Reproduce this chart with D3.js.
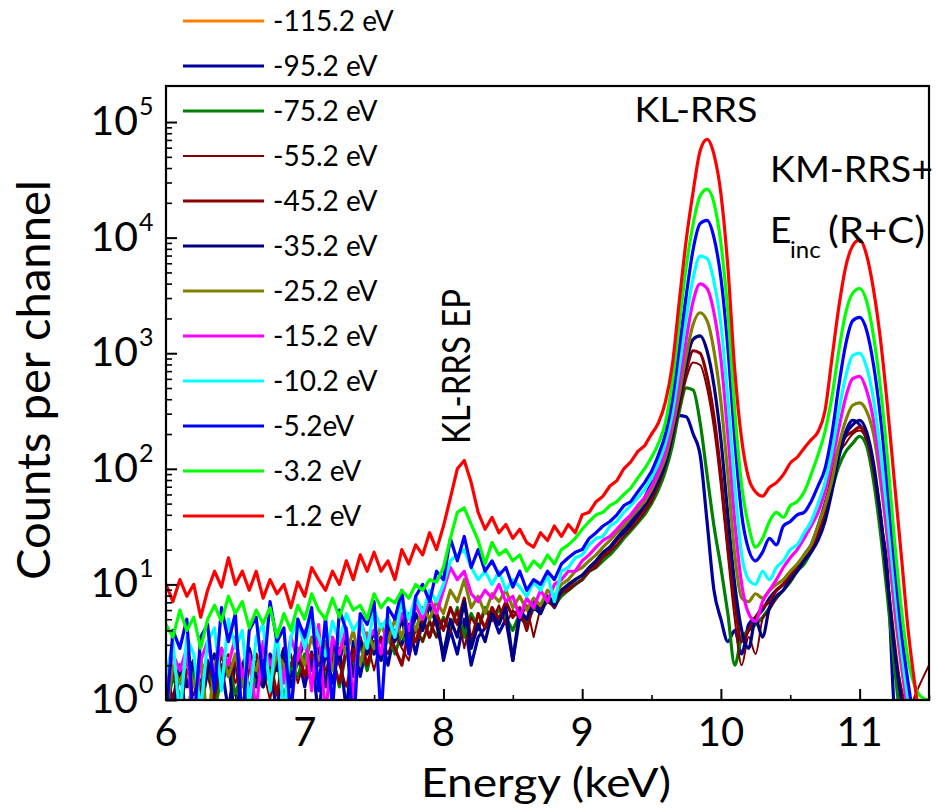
<!DOCTYPE html>
<html>
<head>
<meta charset="utf-8">
<script src="https://cdn.jsdelivr.net/npm/d3@7"></script>
<style>
body { margin: 0; background: #fff; }
svg { display: block; font-family: Lato, "DejaVu Sans", sans-serif; }
</style>
</head>
<body>
<svg id="chart" width="942" height="808"></svg>
<script>
// channel energies (keV)
const energies = [
6.00,6.05,6.10,6.15,6.20,6.25,6.30,6.35,6.40,6.45,
6.50,6.55,6.60,6.65,6.70,6.75,6.80,6.85,6.90,6.95,
7.00,7.05,7.10,7.15,7.20,7.25,7.30,7.35,7.40,7.45,
7.50,7.55,7.60,7.65,7.70,7.75,7.80,7.85,7.90,7.95,
8.00,8.05,8.10,8.15,8.20,8.25,8.30,8.35,8.40,8.45,
8.50,8.55,8.60,8.65,8.70,8.75,8.80,8.85,8.90,8.95,
9.00,9.05,9.10,9.15,9.20,9.25,9.30,9.35,9.40,9.45,
9.50,9.55,9.60,9.65,9.70,9.75,9.80,9.85,9.90,9.95,
10.00,10.05,10.10,10.15,10.20,10.25,10.30,10.35,10.40,10.45,
10.50,10.55,10.60,10.65,10.70,10.75,10.80,10.85,10.90,10.95,
11.00,11.05,11.10,11.15,11.20,11.25,11.30,11.35,11.40,11.45,
11.50];

const legendLabels = ["-115.2 eV","-95.2 eV","-75.2 eV","-55.2 eV","-45.2 eV","-35.2 eV",
  "-25.2 eV","-15.2 eV","-10.2 eV","-5.2eV","-3.2 eV","-1.2 eV"];

// counts per channel, one array per detuning
const c115 = [];
const c95 = [
1.6,1,2,0.6,1.8,1.4,2.2,1.1,2,0.8,
2.2,1.6,2.5,1.3,2.2,1.8,0.8,2.4,1.6,2.5,
1.3,2.6,0.7,2.8,1.4,2.8,0.8,3.2,1.6,3.2,
2.5,3.5,2,4,3,4.5,2.5,5,3.5,5.6,
2.2,4,2.5,5,2,3.5,4.2,5.6,3.8,5,
2.2,5.2,4.5,6.3,5.6,7.6,6.3,8.3,8.9,10,
11,13,15,18,21,25,30,36,45,56,
76,100,141,209,288,282,200,132,35,8.9,
5,3.2,4,2.5,4.5,5.2,6,7.6,8.9,10,
12,14,18,22,32,50,79,132,209,263,
240,178,89,35,13,0.8,0.3,0.3,0.3,0.3,
0.3];
const c75 = [
0.8,1.6,1.1,0.6,1.8,1.3,2,0.8,1.6,2.2,
1.1,1.8,0.6,2,1.3,1.8,2.2,1,2,1.6,
2.5,1.4,2.2,1.6,2.5,1.3,2.6,2,3,1.8,
3.2,2.2,3.5,2.5,3.8,2.8,4.2,3.2,4.8,3.5,
5.2,4,6.3,3.5,5.6,4.2,6.3,5,6,5.2,
4,5.6,4.8,6.3,6,7.1,6.6,7.9,8.9,10,
11,13,14,16,18,21,25,29,34,40,
50,66,95,158,316,501,479,251,89,32,
14,5.6,2,3.5,4,4.5,5.2,6.3,7.6,8.9,
10.5,13,15,19,25,38,66,105,141,166,
191,158,79,28,7.9,2,0.6,0.3,0.3,0.3,
0.3];
const c55 = [
1.8,1,2,1.4,1.1,2.2,1.6,1,2,2.5,
1.4,2,1.3,2.2,1.8,1,2.2,1.6,2.5,1.4,
2.2,1.3,2.6,1.8,2.8,2,1.3,2.8,2.2,3.2,
1.8,3.5,2.5,3.8,2.8,2.2,4.2,3.2,4.8,3.5,
5,3.8,6,2.8,5.2,4,6,4.8,6.6,4.5,
6,5,6.6,3.5,6.3,7.1,6.3,8.3,8.9,10,
11,13,14,17,19,22,26,30,35,42,
52,71,105,178,331,603,832,794,501,224,
71,18,5,2,3.5,2.5,5,6,7.6,8.9,
10.5,13,16,19,26,42,79,132,166,200,
214,178,95,35,10,2.8,1.3,0.8,1.1,1.5,
2];
const c45 = [
1.3,2,0.8,1.8,2.2,1.1,2,1.4,2.5,1.6,
2.2,0.8,2,2.5,1.4,2.2,1.1,2.5,2,2.8,
1.6,2.5,2,3.2,2.2,1.4,2.8,2.2,3.5,2,
3.2,2.5,4,2.8,2,4,3.2,5,3.5,5.6,
4,6.3,4.5,7.6,3.2,5.6,4.2,6.3,5,7.1,
5.2,6.3,4,7.1,6,7.9,7.1,8.9,9.5,11,
12,13,15,18,20,24,28,32,38,45,
56,76,112,200,380,708,1050,1000,631,282,
89,22,7.1,3.2,4,5.2,6.3,7.1,8.9,10,
12,14,17,20,28,45,89,151,191,209,
229,191,100,40,11,3.2,1.1,0.5,0.3,0.3,
0.3];
const c35 = [
1.6,0.6,2,1.3,2.2,0.8,1.8,2.5,1.3,2.2,
0.6,2,2.8,1.6,1.3,2.5,1.8,2.8,1.3,2.2,
3.2,1.8,2.8,1.3,3.2,2.2,3.5,1.6,3.2,2.5,
4,2.2,4.5,3.2,5,2.8,5.6,4,6.6,4.5,
2.5,5,3.5,7.1,2.8,4.5,3.2,5.6,4.5,6.3,
2.2,6,5,7.1,5.6,7.9,6.6,8.9,10,11,
12,14,16,19,21,25,28,33,40,48,
60,79,112,200,398,832,1320,1410,1050,525,
178,40,10,4,2.8,5,3.5,6.3,7.9,8.9,
11,13,16,19,24,35,63,126,200,240,
263,209,112,40,11,2.8,1,0.4,0.3,0.3,
0.3];
const c25 = [
0.8,2,1.4,2.2,1.3,2.5,0.6,2,2.8,1.6,
2.5,1.3,2.2,1.8,3,1.4,2.5,2,0.8,2.8,
2,3.5,2.2,3.2,1.8,3.5,2.5,4,2,3.8,
2.8,4.5,3.2,5,3.5,5.6,4,6.3,5,7.1,
5.6,8.9,7.1,11,6.3,7.9,5.6,8.3,7.1,8.9,
6.3,7.9,6,7.6,6.6,8.9,7.9,10,11,13,
14,16,18,21,24,28,32,38,45,52,
66,89,126,224,447,955,1780,2240,1910,1050,
380,89,18,7.6,7.1,8.3,7.6,8.9,10,11,
13,15,18,22,32,48,79,158,263,355,
372,316,200,79,25,6.3,2,0.8,0.4,0.3,
0.3];
const c15 = [
1.3,2.5,1.8,2.8,0.6,2.2,3.2,1.6,2.8,2,
3.5,1.6,2.5,0.8,3.2,2,2.8,1.4,3.5,2.2,
4,1.2,4.5,0.7,3.5,2.5,4.2,1,5,3.2,
4,2.5,5.2,3.5,5.6,4,6.6,5,7.6,5.6,
8.9,14,11,13,8.3,7.1,8.9,7.6,10,7.1,
7.9,5.2,7.6,6.3,8.9,7.1,10,11,13,13,
16,18,21,24,26,30,35,40,48,56,
71,95,141,251,562,1320,2820,3980,3630,2240,
891,200,35,10,5.6,4.8,7.1,8.9,11,14,
17,20,25,32,42,63,112,224,417,603,
631,479,263,95,28,7.1,2.2,0.8,0.4,0.3,
0.3];
const c10 = [
1.6,3.2,0.7,3.5,2.5,0.8,3.2,4.2,1.2,5,
2.8,4,0.9,3.5,4.5,1.2,4,0.7,3.5,5,
2.8,5.2,3.5,2.4,4.8,3.2,5.6,4,5,2.8,
6,4.2,5.2,3.5,7.1,5,7.9,5.6,8.9,7.1,
10,16,18,20,14,11,13,10,13,8.9,
11,9.5,7.9,10.5,8.9,12,7.1,13,14,17,
18,22,25,26,32,35,42,48,56,66,
83,112,166,302,759,2000,4470,6920,6610,4170,
1780,398,71,18,11,10,13,11,14,16,
20,22,28,35,50,76,141,316,631,955,
1000,759,398,141,40,10,2.8,1,0.5,0.3,
0.3];
const c5 = [
0.7,4,2.8,5,0.6,3.5,4.5,1.2,6.3,3.2,
5.6,0.6,4,5.2,1.5,7.1,3.2,4.2,0.7,5,
3.5,6.3,1.2,5.2,0.8,6,4,0.5,5.6,4.5,
7.1,0.7,6.3,5,8.9,2.5,7.9,10,7.1,13,
11,25,16,26,14,20,13,16,12,14,
9.5,13,8.9,11,10,13,11,15,17,19,
20,25,28,32,35,40,48,52,63,76,
95,132,200,398,1120,3160,7940,13200,14100,10000,
4470,1120,178,40,20,16,19,25,22,32,
35,40,42,52,71,100,200,525,1200,1910,
2040,1580,794,282,71,16,4,1.4,0.6,0.4,
0.3];
const c3 = [
4.5,3.5,6,4,5.2,2.8,5,6.6,4.8,7.9,
5.6,7.1,4.2,6,4.6,6.3,3.5,5.6,4,6.6,
5,8.3,6,5,7.6,5.2,7.9,6,6.6,5,
8.3,6.3,7.6,6.9,8.9,7.6,10,8.9,11,10.5,
14,25,42,46,33,24,15,23,18,20,
16,18,13,16,14,18,15,20,22,25,
30,35,40,42,48,52,60,68,83,100,
126,166,251,562,1780,5620,13200,22900,26300,20000,
8910,2240,316,71,32,21,25,35,42,38,
48,52,63,89,132,209,417,1050,2240,3310,
3630,2820,1410,501,126,25,6.3,2.2,1.3,1.05,
1];
const c1 = [
10,7.1,11,7.9,10,5.2,8.9,13,9.5,17,
10,13,8.9,13,7.6,11,8.3,10,6.3,10.5,
7.9,14,11,8.9,13,10,16,11,18,13,
19,13,16,11,20,15,22,18,28,20,
32,56,100,118,76,42,30,38,28,33,
25,30,23,21,28,24,32,26,33,28,
40,42,52,58,71,79,100,115,141,158,
200,251,380,794,2820,9550,25100,56200,70800,52500,
24000,5600,710,178,83,63,58,69,76,89,
112,126,151,178,209,316,891,2510,5620,8510,
9550,7080,3550,1320,355,79,18,4,1.3,0.5,
0.3];

const seriesList = [c115, c95, c75, c55, c45, c35, c25, c15, c10, c5, c3, c1];
const colors = ["#FF8000","#0000A0","#008000","#800000","#8B0000","#000080",
  "#808000","#FF00FF","#00FFFF","#0000FF","#00FF00","#FF0000"];
const lineWidths = [3.2,3.2,3.2,2,3.2,3.2,3.2,3.2,3.2,3.2,3.2,3.2];

const xTicks = [6, 7, 8, 9, 10, 11];
const xMinorTicks = [6.5, 7.5, 8.5, 9.5, 10.5, 11.5];
const yTicks = [1, 10, 100, 1000, 10000, 100000];
const yTickExp = ["0", "1", "2", "3", "4", "5"];

const svg = d3.select("#chart"),
  margin = {top: 86, right: 13, bottom: 108, left: 166},
  width = 942 - margin.left - margin.right,
  height = 808 - margin.top - margin.bottom,
  x = d3.scaleLinear().domain([6, 11.5]).range([0, width]),
  y = d3.scaleLog().domain([1, 2.05e5]).range([height, 0]),
  g = svg.append("g").attr("transform", `translate(${margin.left},${margin.top})`);

g.append("clipPath").attr("id", "plotClip")
  .append("rect").attr("width", width).attr("height", height);

// noisy background drawn straight, peak region drawn smooth
const splitAt = energies.indexOf(9.5);
const lineNoise = d3.line().x(d => x(d[0])).y(d => y(d[1]));
const linePeaks = d3.line().x(d => x(d[0])).y(d => y(d[1])).curve(d3.curveMonotoneX);

const plot = g.append("g").attr("clip-path", "url(#plotClip)");
seriesList.forEach((s, k) => {
  if (!s.length) return;
  const pts = s.map((v, i) => [energies[i], v]);
  const grp = plot.append("g")
    .attr("fill", "none")
    .attr("stroke", colors[k])
    .attr("stroke-width", lineWidths[k])
    .attr("stroke-linejoin", "round")
    .attr("stroke-linecap", "round");
  grp.append("path").attr("d", lineNoise(pts.slice(0, splitAt + 1)));
  grp.append("path").attr("d", linePeaks(pts.slice(splitAt)));
});

// minor ticks on the log axis
const yMinor = [];
yTicks.slice(0, -1).forEach(t => { for (let m = 2; m < 10; m++) yMinor.push(t * m); });

function styleAxis(sel, w) {
  sel.select(".domain").remove();
  sel.selectAll("line").attr("stroke", "#000").attr("stroke-width", w);
}
g.append("g").call(d3.axisLeft(y).tickValues(yTicks).tickSize(-11).tickSizeOuter(0).tickFormat(""))
  .call(s => styleAxis(s, 2));
g.append("g").call(d3.axisLeft(y).tickValues(yMinor).tickSize(-6).tickSizeOuter(0).tickFormat(""))
  .call(s => styleAxis(s, 1.6));
g.append("g").attr("transform", `translate(0,${height})`)
  .call(d3.axisBottom(x).tickValues(xTicks).tickSize(-11).tickSizeOuter(0).tickFormat(""))
  .call(s => styleAxis(s, 2));
g.append("g").attr("transform", `translate(0,${height})`)
  .call(d3.axisBottom(x).tickValues(xMinorTicks).tickSize(-5).tickSizeOuter(0).tickFormat(""))
  .call(s => styleAxis(s, 1.6));

g.append("rect").attr("width", width).attr("height", height)
  .attr("fill", "none").attr("stroke", "#000").attr("stroke-width", 2.2);

// tick labels
yTicks.forEach((t, i) => {
  const ty = margin.top + y(t);
  svg.append("text").attr("x", 138).attr("y", ty + 13).attr("text-anchor", "end")
    .attr("font-size", 41).text("10");
  svg.append("text").attr("x", 139).attr("y", ty - 7)
    .attr("font-size", 25).text(yTickExp[i]);
});
xTicks.forEach(t => {
  svg.append("text").attr("x", margin.left + x(t)).attr("y", 746)
    .attr("text-anchor", "middle").attr("font-size", 40).text(t);
});

// axis titles
svg.append("text").attr("x", 546).attr("y", 797).attr("text-anchor", "middle")
  .attr("font-size", 40).attr("textLength", 250).attr("lengthAdjust", "spacingAndGlyphs")
  .text("Energy (keV)");
svg.append("text").attr("transform", "translate(50,380) rotate(-90)")
  .attr("text-anchor", "middle").attr("font-size", 46)
  .attr("textLength", 400).attr("lengthAdjust", "spacingAndGlyphs")
  .text("Counts per channel");

// peak annotations
svg.append("text").attr("x", 696).attr("y", 122).attr("text-anchor", "middle")
  .attr("font-size", 35).attr("textLength", 123).attr("lengthAdjust", "spacingAndGlyphs")
  .text("KL-RRS");
svg.append("text").attr("x", 770).attr("y", 182)
  .attr("font-size", 37).attr("textLength", 163).attr("lengthAdjust", "spacingAndGlyphs")
  .text("KM-RRS+");
svg.append("text").attr("x", 770).attr("y", 243).attr("font-size", 37).text("E");
svg.append("text").attr("x", 790).attr("y", 258).attr("font-size", 24).text("inc");
svg.append("text").attr("x", 828).attr("y", 243)
  .attr("font-size", 37).attr("textLength", 97).attr("lengthAdjust", "spacingAndGlyphs")
  .text("(R+C)");
svg.append("text").attr("transform", "translate(470,444) rotate(-90)")
  .attr("font-size", 38).attr("textLength", 155).attr("lengthAdjust", "spacingAndGlyphs")
  .text("KL-RRS EP");

// legend
const legend = svg.append("g");
legendLabels.forEach((lab, i) => {
  const ly = 21 + 45 * i;
  legend.append("line").attr("x1", 183).attr("x2", 264).attr("y1", ly).attr("y2", ly)
    .attr("stroke", colors[i]).attr("stroke-width", lineWidths[i]);
  legend.append("text").attr("x", 273).attr("y", ly + 10)
    .attr("font-size", 28).text(lab);
});
</script>
</body>
</html>
